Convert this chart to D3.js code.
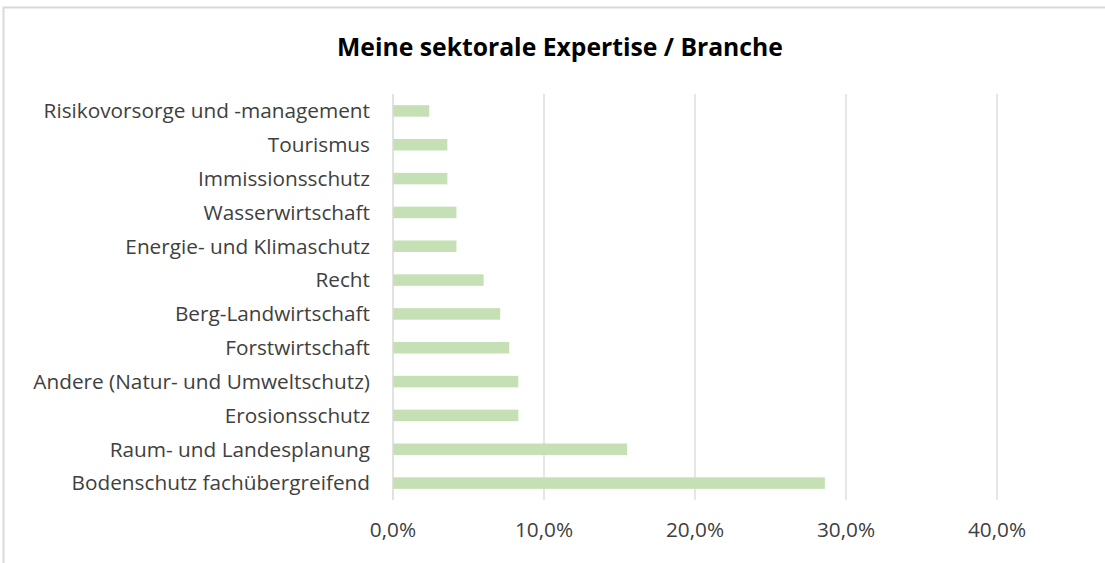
<!DOCTYPE html>
<html><head><meta charset="utf-8">
<script src="https://cdn.jsdelivr.net/npm/d3@7"></script>
<style>html,body{margin:0;padding:0;background:#fff;}svg{display:block;}</style>
</head><body>
<svg id="chart" width="1105" height="563"></svg>
<script>
const categories = [
  "Risikovorsorge und -management",
  "Tourismus",
  "Immissionsschutz ",
  "Wasserwirtschaft",
  "Energie- und Klimaschutz",
  "Recht",
  "Berg-Landwirtschaft",
  "Forstwirtschaft",
  "Andere (Natur- und Umweltschutz)",
  "Erosionsschutz",
  "Raum- und Landesplanung",
  "Bodenschutz fachübergreifend"
];
const values = [0.024, 0.036, 0.036, 0.042, 0.042, 0.060, 0.071, 0.077, 0.083, 0.083, 0.155, 0.286];
const tickValues = [0, 0.1, 0.2, 0.3, 0.4];
const title = "Meine sektorale Expertise / Branche";

const svg = d3.select("#chart");
const FONT = "'Open Sans', sans-serif";

// frame
svg.append("rect").attr("x", 3.5).attr("y", 7.5).attr("width", 1200).attr("height", 700)
  .attr("fill", "#fff").attr("stroke", "#d9d9d9").attr("stroke-width", 2);

const x = d3.scaleLinear().domain([0, 0.4]).range([393, 997]);
const y = d3.scaleBand().domain(categories).range([94, 500]).paddingInner(0.66).paddingOuter(0.33);

// gridlines
svg.append("g").selectAll("line").data(tickValues.filter(d => d > 0)).join("line")
  .attr("x1", d => x(d)).attr("x2", d => x(d)).attr("y1", 94).attr("y2", 500)
  .attr("stroke", "#d9d9d9").attr("stroke-width", 1.3);

// bars
svg.append("g").selectAll("rect").data(values).join("rect")
  .attr("x", x(0)).attr("y", (d, i) => y(categories[i]))
  .attr("width", d => x(d) - x(0)).attr("height", y.bandwidth())
  .attr("fill", "#c5e0b4");

// axis line at zero
svg.append("line").attr("x1", x(0)).attr("x2", x(0)).attr("y1", 94).attr("y2", 500)
  .attr("stroke", "#d9d9d9").attr("stroke-width", 1.5);

// category labels
const fmtPct = d => d3.format(".1f")(d * 100).replace(".", ",") + "%";
const lab = svg.append("g").selectAll("text").data(categories).join("text")
  .attr("x", 370).attr("y", d => y(d) + y.bandwidth() / 2)
  .attr("dy", "0.35em").attr("text-anchor", "end")
  .attr("font-family", FONT).attr("font-size", 16).attr("fill", "#404040")
  .text(d => d);

// x tick labels
const xt = svg.append("g").selectAll("text").data(tickValues).join("text")
  .attr("x", d => x(d)).attr("y", 530).attr("dy", "0.35em").attr("text-anchor", "middle")
  .attr("font-family", FONT).attr("font-size", 16).attr("fill", "#404040")
  .text(fmtPct);

// title
const t = svg.append("text").attr("x", 560).attr("y", 47).attr("dy", "0.35em")
  .attr("text-anchor", "middle").attr("font-family", FONT).attr("font-weight", "bold")
  .attr("font-size", 20).attr("fill", "#000").text(title);

// fit font sizes to reference widths (average over a few labels)
const targets = {0: 321, 8: 343, 11: 298};
let ratio = 0, n = 0;
lab.each(function(d, i) {
  if (targets[i]) { ratio += targets[i] / this.getComputedTextLength(); n++; }
});
const fsLab = 16 * ratio / n;
lab.attr("font-size", fsLab);
xt.attr("font-size", fsLab);
t.attr("font-size", 20 * 446 / t.node().getComputedTextLength());
</script>
</body></html>
